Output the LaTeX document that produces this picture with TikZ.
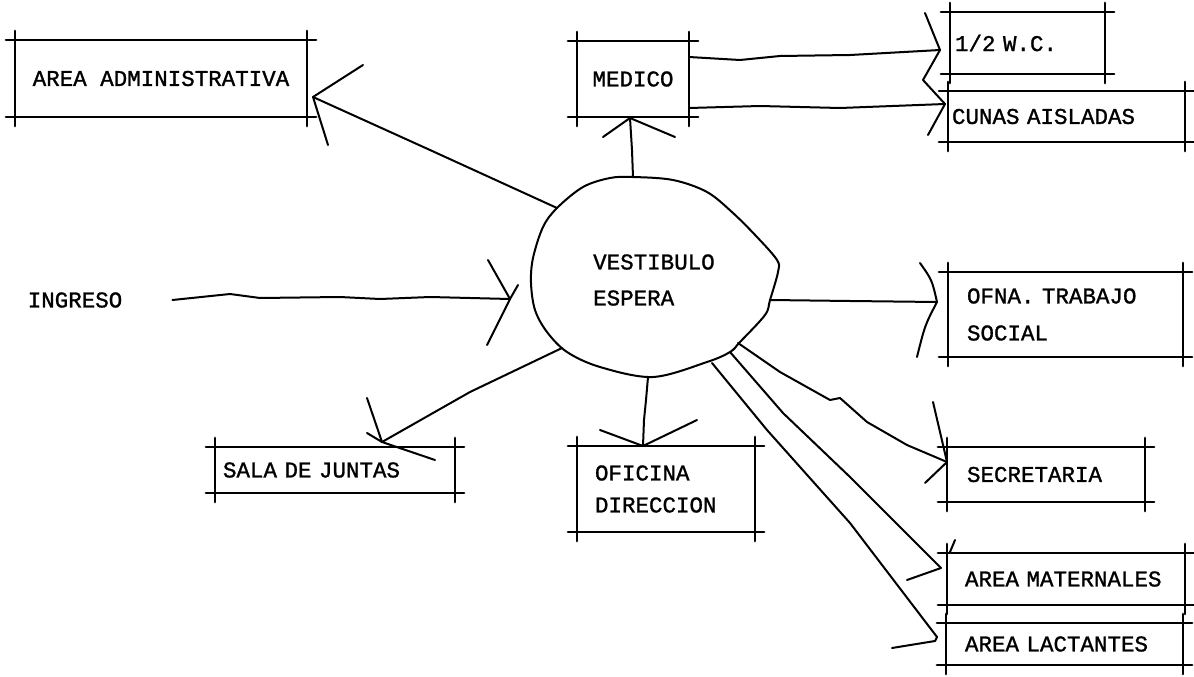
\documentclass[tikz,border=0pt]{standalone}
\usepackage{fontspec}
\newfontfamily\dm[FakeBold=1.2]{Liberation Mono}
\begin{document}
\begin{tikzpicture}[x=1pt,y=-1pt,line join=round,line cap=round,
  txt/.style={font=\dm\fontsize{22.5}{24}\selectfont,inner sep=0pt},
  box/.style={txt,rectangle,draw=none,align=left},
  bl/.style={line width=2.2pt},
  con/.style={line width=2pt}]
\useasboundingbox[fill=white] (0,0) rectangle (1194,677);
\newcommand\xb[1]{\draw[bl] ([xshift=-9pt]#1.north west) -- ([xshift=9pt]#1.north east)
  ([xshift=-9pt]#1.south west) -- ([xshift=9pt]#1.south east)
  ([yshift=9pt]#1.north west) -- ([yshift=-9pt]#1.south west)
  ([yshift=9pt]#1.north east) -- ([yshift=-9pt]#1.south east);}
% boxes
\node[box,align=center,minimum width=292pt,minimum height=77pt] (adm) at (161,78.5) {AREA ADMINISTRATIVA};
\node[box,align=center,minimum width=112pt,minimum height=76pt] (med) at (633,79) {MEDICO};
\node[box,minimum width=155pt,minimum height=62pt,inner xsep=5pt,text width=145pt] (wc) at (1027.5,43) {1/2 W.C.};
\node[box,minimum width=237pt,minimum height=51pt,inner xsep=4pt,text width=229pt] (cun) at (1066.5,116.5) {CUNAS AISLADAS};
\node[box,font=\dm\fontsize{22.5}{37}\selectfont,minimum width=235pt,minimum height=85pt,inner xsep=19pt,text width=197pt] (ofna) at (1065.5,314.5) {OFNA. TRABAJO\\SOCIAL};
\node[box,minimum width=198pt,minimum height=55pt,inner xsep=20pt,text width=158pt] (sec) at (1046,474.5) {SECRETARIA};
\node[box,minimum width=238pt,minimum height=52pt,inner xsep=18pt,text width=202pt] (mat) at (1066,579) {AREA MATERNALES};
\node[box,minimum width=237pt,minimum height=42pt,inner xsep=19pt,text width=199pt] (lac) at (1064.5,644) {AREA LACTANTES};
\node[box,minimum width=240pt,minimum height=46pt,inner xsep=8pt,text width=224pt] (sala) at (335,470) {SALA DE JUNTAS};
\node[box,font=\dm\fontsize{22.5}{32}\selectfont,minimum width=178pt,minimum height=86pt,inner xsep=18pt,text width=142pt] (ofi) at (666,489) {OFICINA\\DIRECCION};
\foreach \b in {adm,med,wc,cun,ofna,sec,mat,lac,sala,ofi} {\xb{\b}}
% ingreso and vestibulo
\node[txt] (ing) at (75,300) {INGRESO};
\node[txt,font=\dm\fontsize{22.5}{36}\selectfont,align=left,anchor=west] (vest) at (593,280) {VESTIBULO\\ESPERA};
\draw[con] plot[smooth cycle,tension=0.55] coordinates {(633,177) (673,180) (707,192) (733,213) (757,237) (777,260) (778,272) (770,300) (765,315) (740,342) (730,352) (707,362) (653,377) (600,367) (567,352) (547,332) (535,310) (531,283) (533,258) (543,227) (557,208) (583,187) (610,178)};
% attach points on circle
\coordinate (vA) at (557,208);
\coordinate (vM) at (633,177);
\coordinate (vO) at (770,300);
\coordinate (vS) at (738,343);
\coordinate (vMa) at (730,352);
\coordinate (vL) at (712,363);
\coordinate (vJ) at (562,348);
\coordinate (vD) at (648,377);
% tips
\coordinate (tA) at (313,97);
\coordinate (tM) at (630,118);
\coordinate (tW) at (940,50);
\coordinate (tC) at (945,104);
\coordinate (tI) at (510,299);
\coordinate (tO) at (937,302);
\coordinate (tS) at (947,462);
\coordinate (tMa) at (941,568);
\coordinate (tL) at (937,637);
\coordinate (tJ) at (382,442);
\coordinate (tD) at (643,446);
\coordinate (mW) at (689,57);
\coordinate (mC) at (689,108);
% connectors
\draw[con] (vA) -- (430,150) -- (tA);
\draw[con] (tA) ++(50,-32) -- (tA) -- ++(15,48);
\draw[con] (vM) -- (632,150) -- (tM);
\draw[con] (tM) ++(-27,19) -- (tM) -- ++(45,19);
\draw[con] (mW) -- (740,60) -- (780,56) -- (850,55) -- (tW);
\draw[con] (mC) -- (760,106) -- (840,108) -- (tC);
\draw[con] (925,13) -- (tW) -- (923,80) -- (tC) -- (928,135);
\draw[con] ([xshift=50pt]ing.east) -- (230,294) -- (260,298) -- (340,297) -- (380,299) -- (430,297) -- (tI);
\draw[con] (488,260) -- (tI) -- (487,345);
\draw[con] (tI) -- (518,285);
\draw[con] (vO) -- (850,301) -- (tO);
\draw[con] (920,263) .. controls (932,280) .. (tO) .. controls (925,325) .. (917,357);
\draw[con] (vS) -- (780,372) -- (830,400) -- (840,398) -- (867,422) -- (907,445) -- (tS);
\draw[con] (933,402) -- (tS) -- (925,483);
\draw[con] (vMa) -- (783,413) -- (850,477) -- (tMa);
\draw[con] (907,580) -- (tMa);
\draw[con] (955,540) -- (950,552);
\draw[con] (vL) -- (767,430) -- (850,523) -- (tL);
\draw[con] (tL) -- (935,641) -- (892,648);
\draw[con] (vJ) -- (470,392) -- (tJ);
\draw[con] (367,398) -- (tJ) -- (435,460);
\draw[con] (367,433) -- (tJ);
\draw[con] (vD) -- (646,400) -- (644,420) -- (tD);
\draw[con] (600,430) -- (tD) -- (697,420);
\end{tikzpicture}
\end{document}
